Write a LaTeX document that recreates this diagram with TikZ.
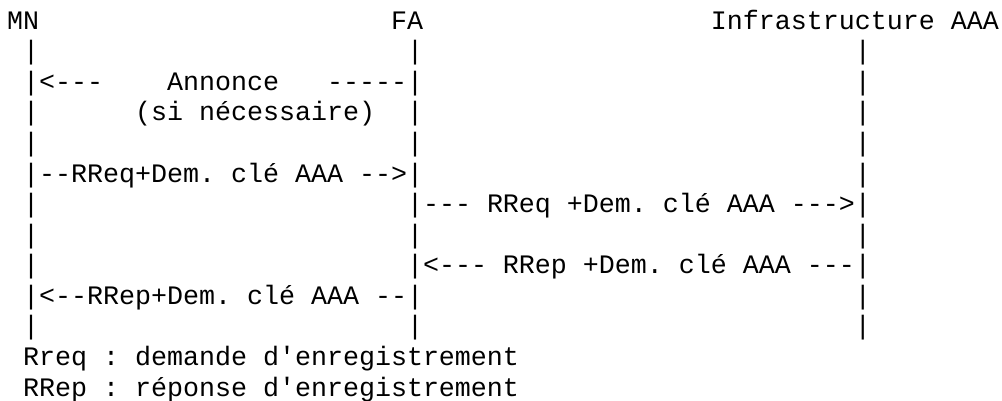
\documentclass[tikz,border=0pt]{standalone}
\usepackage{fontspec}
\setmonofont{Liberation Mono}
\usepackage{tikz}
\tikzset{cell/.style={anchor=base west, inner sep=0pt, outer sep=0pt, font=\ttfamily}}
\begin{document}
\begin{tikzpicture}[x=6pt, y=-11.46pt]
                 \useasboundingbox (-0.44,-0.96) rectangle (62.19,12.16);
                 % entities
                 \node[cell] (mn) at (0,0) {MN};
                 \node[cell] (fa) at (24,0) {FA};
                 \node[cell] (aaa) at (44,0) {Infrastructure AAA};
                 % lifelines
                 \foreach \r in {1,...,10}{
                     \node[cell] (mn\r) at (1,\r) {|};
                     \node[cell] (fa\r) at (25,\r) {|};
                     \node[cell] (aaa\r) at (53,\r) {|};
                 }
                 % messages
                 \node[cell] (annl) at (2,2) {<---};
                 \node[cell] (ann) at (10,2) {Annonce};
                 \node[cell] (annr) at (20,2) {-----};
                 \node[cell] (sinec) at (8,3) {(si nécessaire)};
                 \node[cell] (rreq1) at (2,5) {--RReq+Dem. clé AAA -->};
                 \node[cell] (rreq2) at (26,6) {--- RReq +Dem. clé AAA --->};
                 \node[cell] (rrep2) at (26,8) {<--- RRep +Dem. clé AAA ---};
                 \node[cell] (rrep1) at (2,9) {<--RRep+Dem. clé AAA --};
                 % legend
                 \node[cell] (lreq) at (1,11) {Rreq : demande d'enregistrement};
                 \node[cell] (lrep) at (1,12) {RRep : réponse d'enregistrement};
             \end{tikzpicture}
\end{document}
